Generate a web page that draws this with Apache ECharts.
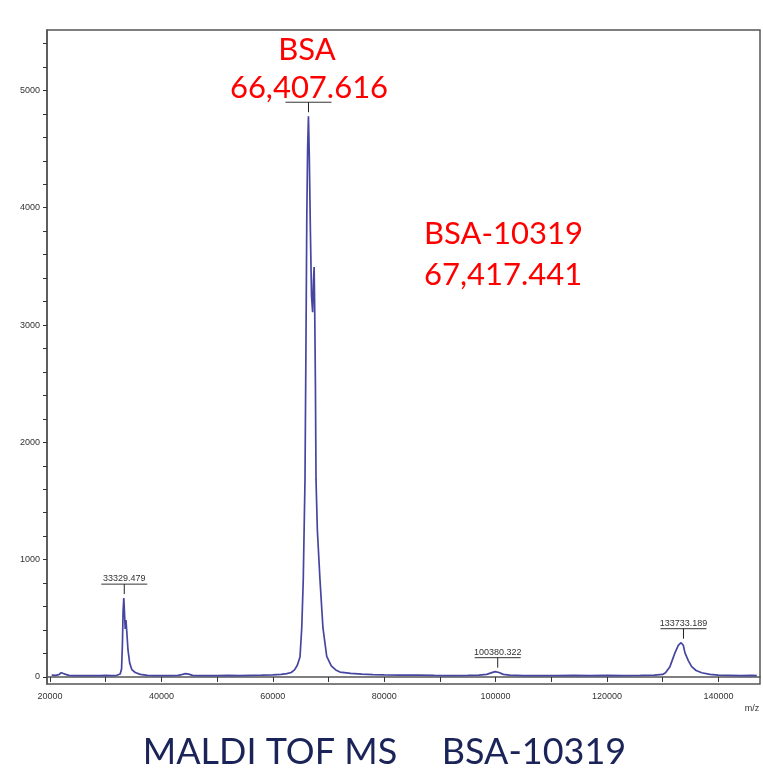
<!DOCTYPE html>
<html>
<head>
<meta charset="utf-8">
<script src="https://cdn.jsdelivr.net/npm/echarts@6/dist/echarts.min.js"></script>
<style>
  html, body { margin: 0; padding: 0; background: #fff; }
  #main { width: 763px; height: 769px; }
</style>
</head>
<body>
<div id="main"></div>
<script>
// spectrum: [m/z, intensity]
var spectrum = [
  [20300, 15], [21000, 14], [21600, 20], [22000, 36], [22400, 30], [22800, 22], [23400, 14],
  [24500, 12], [26000, 11], [27500, 12], [29000, 11], [30000, 14], [31000, 12], [32000, 14],
  [32600, 25], [32850, 70], [33000, 280], [33120, 560], [33250, 672], [33380, 540], [33500, 410],
  [33640, 486], [33780, 390], [34000, 230], [34300, 120], [34700, 62], [35300, 38], [36200, 22],
  [37500, 14], [39000, 12], [41000, 11], [43000, 13], [43800, 22], [44300, 28], [44900, 24],
  [45600, 14], [47500, 12], [50000, 11], [52000, 13], [54000, 12], [56000, 14], [58000, 15],
  [60000, 18], [61500, 22], [62500, 28], [63300, 38], [63900, 60], [64400, 100], [64880, 170],
  [65200, 420], [65470, 830], [65780, 1680], [65950, 2800], [66100, 3900], [66250, 4500],
  [66400, 4780], [66550, 4450], [66750, 3800], [66950, 3250], [67150, 3110], [67300, 3380],
  [67420, 3495], [67520, 3150], [67650, 2500], [67760, 1680], [68000, 1250], [68470, 830],
  [69000, 420], [69680, 175], [70500, 95], [71300, 60], [72060, 42], [74000, 30], [76000, 24],
  [78000, 20], [80000, 17], [83000, 16], [86000, 15], [89000, 13], [92000, 12], [95000, 14],
  [97000, 16], [98400, 22], [99200, 35], [99900, 45], [100600, 38], [101400, 22], [102500, 15],
  [105000, 12], [108000, 11], [111000, 12], [114000, 13], [117000, 12], [120000, 13], [123000, 12],
  [126000, 14], [128500, 16], [130000, 22], [130500, 35], [131300, 88], [132200, 205], [132800, 270],
  [133300, 292], [133700, 270], [134000, 205], [134600, 140], [135200, 88], [136000, 55],
  [137000, 36], [138500, 22], [140000, 16], [142000, 14], [144000, 12], [146000, 13], [146900, 11]
];

// labelled peaks: [m/z, intensity at top]
var peaks = [[33329.479, 672], [66407.616, 4780], [100380.322, 45], [133733.189, 292]];
var peakTexts = ['33329.479', '', '100380.322', '133733.189'];

var xTicks = [20000, 30000, 40000, 50000, 60000, 70000, 80000, 90000, 100000, 110000, 120000, 130000, 140000];
var xLabels = [20000, 40000, 60000, 80000, 100000, 120000, 140000];
var yTicks = [0, 200, 400, 600, 800, 1000, 1200, 1400, 1600, 1800, 2000, 2200, 2400, 2600, 2800,
  3000, 3200, 3400, 3600, 3800, 4000, 4200, 4400, 4600, 4800, 5000, 5200, 5400];
var yLabels = [0, 1000, 2000, 3000, 4000, 5000];

var chart = echarts.init(document.getElementById('main'));
var axisFont = { fontSize: 9, color: '#333', fontFamily: 'Liberation Sans, Arial, sans-serif',
  formatter: function (v) { return String(v); } };

chart.setOption({
  animation: false,
  grid: { left: 47, right: 3, top: 30, bottom: 85, show: true, borderColor: '#555', borderWidth: 1.5 },
  xAxis: {
    type: 'value',
    min: 19460,
    max: 147470,
    splitLine: { show: false },
    axisLine: { lineStyle: { color: '#555', width: 1.5 } },
    axisTick: { customValues: xTicks, length: 5, lineStyle: { color: '#333' } },
    axisLabel: Object.assign({ customValues: xLabels, margin: 8 }, axisFont)
  },
  yAxis: {
    type: 'value',
    min: -60,
    max: 5515,
    splitLine: { show: false },
    axisLine: { show: true, lineStyle: { color: '#555', width: 1.5 } },
    axisTick: { show: true, customValues: yTicks, length: 4, lineStyle: { color: '#333' } },
    axisLabel: Object.assign({ customValues: yLabels, margin: 7 }, axisFont)
  },
  series: [
    {
      type: 'line',
      data: spectrum,
      showSymbol: false,
      lineStyle: { color: '#4646a0', width: 1.7 },
      z: 2
    },
    {
      type: 'custom',
      data: peaks,
      z: 5,
      renderItem: function (params, api) {
        var p = api.coord([api.value(0), api.value(1)]);
        var barY = p[1] - 14;
        var kids = [
          { type: 'line', shape: { x1: p[0] - 23, y1: barY, x2: p[0] + 23, y2: barY }, style: { stroke: '#333', lineWidth: 1 } },
          { type: 'line', shape: { x1: p[0], y1: barY, x2: p[0], y2: p[1] - 4 }, style: { stroke: '#222', lineWidth: 1 } }
        ];
        var t = peakTexts[params.dataIndex];
        if (t) {
          kids.push({ type: 'text', style: { text: t, x: p[0], y: barY - 1, align: 'center', verticalAlign: 'bottom',
            fontSize: 9, fill: '#333', fontFamily: 'Liberation Sans, Arial, sans-serif' } });
        }
        return { type: 'group', children: kids };
      }
    }
  ],
  graphic: [
    { type: 'text', style: { text: 'BSA', x: 307, y: 50, fill: '#ff0000', fontSize: 31, fontFamily: 'Lato', align: 'center', verticalAlign: 'middle' } },
    { type: 'text', style: { text: '66,407.616', x: 309, y: 88, fill: '#ff0000', fontSize: 31, fontFamily: 'Lato', align: 'center', verticalAlign: 'middle' } },
    { type: 'text', style: { text: 'BSA-10319', x: 424, y: 234, fill: '#ff0000', fontSize: 31, fontFamily: 'Lato', align: 'left', verticalAlign: 'middle' } },
    { type: 'text', style: { text: '67,417.441', x: 424, y: 275, fill: '#ff0000', fontSize: 31, fontFamily: 'Lato', align: 'left', verticalAlign: 'middle' } },
    { type: 'text', style: { text: 'm/z', x: 752, y: 709, fill: '#333', fontSize: 9, fontFamily: 'Liberation Sans, Arial, sans-serif', align: 'center', verticalAlign: 'middle' } },
    { type: 'text', style: { text: 'MALDI TOF MS', x: 270, y: 752, fill: '#1b2459', fontSize: 36, fontFamily: 'Lato', align: 'center', verticalAlign: 'middle' } },
    { type: 'text', style: { text: 'BSA-10319', x: 534, y: 752, fill: '#1b2459', fontSize: 36, fontFamily: 'Lato', align: 'center', verticalAlign: 'middle' } }
  ]
});
</script>
</body>
</html>
